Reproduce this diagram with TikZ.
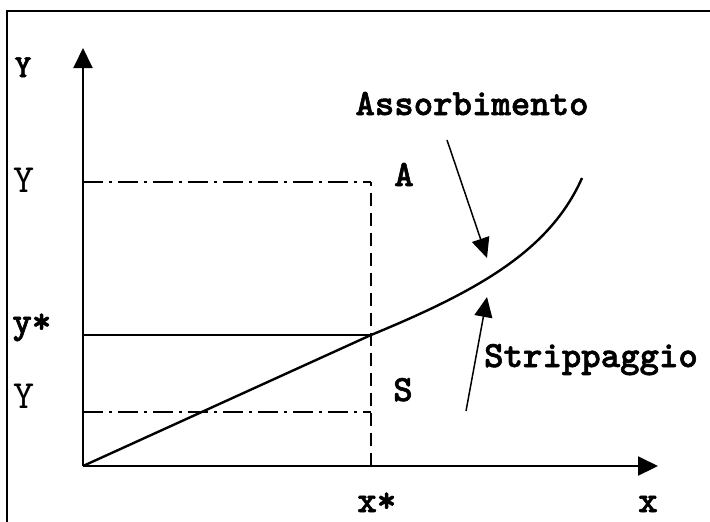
\documentclass[tikz,border=0pt]{standalone}
\usepackage{fontspec}
\newfontfamily\boldtt{lmmonolt10-bold.otf}[FakeBold=1.6]
\newfontfamily\lighttt{lmmono10-regular.otf}
\usetikzlibrary{arrows.meta}
\begin{document}
\begin{tikzpicture}[x=0.5pt,y=-0.5pt,
  lbl/.style={font=\boldtt\fontsize{18.5}{20}\selectfont, inner sep=0pt, anchor=base},
  lightlbl/.style={font=\lighttt\fontsize{20}{22}\selectfont, inner sep=0pt, anchor=base},
  axis/.style={line width=1pt, -{Triangle[length=10pt,width=9.5pt]}},
  pointer/.style={line width=0.75pt, -{Triangle[length=10pt,width=9pt]}},
  dashdot/.style={line width=0.8pt, dash pattern=on 10pt off 3pt on 1.5pt off 3pt},
  dashv/.style={line width=0.8pt, dash pattern=on 6.5pt off 3.5pt},
  curve/.style={line width=1.2pt},
  thin/.style={line width=0.8pt},
]
\useasboundingbox (0,0) rectangle (710,521);
\fill[white] (0,0) rectangle (710,521);
% frame
\coordinate (fbl) at (7,530);
\coordinate (ftl) at (7,11);
\coordinate (ftr) at (720,11);
\draw[line width=1.2pt] (fbl) -- (ftl) -- (ftr);

% key points
\coordinate (O) at (83,466);
\coordinate (ytip) at (83,48);
\coordinate (xtip) at (658,466);
\coordinate (xs) at (371,466);
\coordinate (A) at (371,182);
\coordinate (yA) at (83,182);
\coordinate (P) at (371,335);
\coordinate (yP) at (83,335);
\coordinate (S) at (371,412);
\coordinate (yS) at (83,412);
\coordinate (E) at (582,178);

% axes
\draw[axis] (O) -- (ytip);
\draw[axis] (O) -- (xtip);

% guide lines
\draw[dashdot] (yA) -- (A);
\draw[dashdot] (yS) -- (S);
\draw[dashv] (xs) -- (A);
\draw[thin] (yP) -- (P);

% equilibrium curve
\draw[curve] (O) -- (P) .. controls (480,290) and (550,250) .. (E);

% pointers
\coordinate (a1) at (447,140);
\coordinate (a2) at (487,258);
\coordinate (s1) at (466,411);
\coordinate (s2) at (487,297);
\draw[pointer] (a1) -- (a2);
\draw[pointer] (s1) -- (s2);

% labels
\node[lbl, font=\boldtt\fontsize{16}{18}\selectfont] (lY) at (23,77) {Y};
\node[lightlbl] (ly1) at (24,192) {Y};
\node[lbl, anchor=base west] (lys) at (12,333) {y*};
\node[lightlbl] (ly2) at (24,408) {Y};
\node[lbl] (lA) at (404,186) {A};
\node[lbl] (lS) at (403,401) {S};
\node[lbl, anchor=base west] (lxs) at (357,512) {x*};
\node[lbl] (lx) at (648,512) {x};
\node[lbl] (lass) at (472,115) {Assorbimento};
\node[lbl] (lstr) at (591,367) {Strippaggio};
\end{tikzpicture}
\end{document}
